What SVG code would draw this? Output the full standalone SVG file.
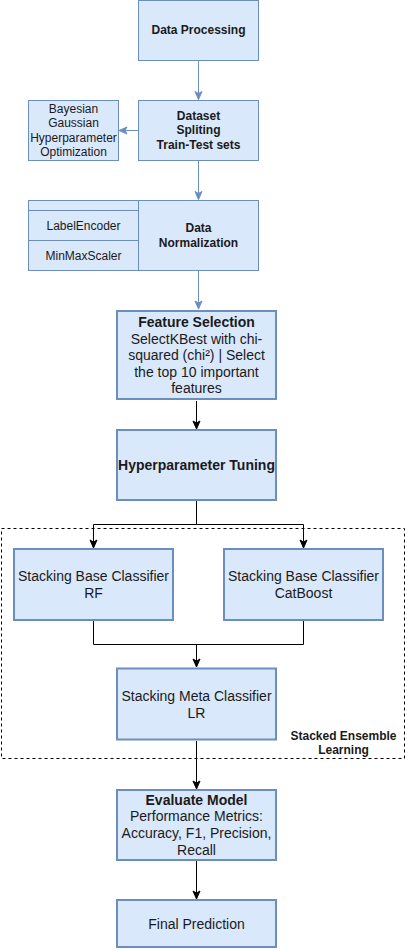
<svg xmlns="http://www.w3.org/2000/svg" width="419" height="950" viewBox="0 0 419 950">
<style>
.b1{fill:#dae8fc;stroke:#6c8ebf;stroke-width:1}
.b2{fill:#dae8fc;stroke:#6c8ebf;stroke-width:2}
text{font-family:"Liberation Sans",Arial,sans-serif;fill:#1a1a1a;text-anchor:middle}
.t12{font-size:12px}
.t12b{font-size:12px;font-weight:bold}
.t14{font-size:14px}
.t14b{font-size:14px;font-weight:bold}
.cb{fill:none;stroke:#6c8ebf;stroke-width:1}
.ck{fill:none;stroke:#000;stroke-width:1}
</style>
<defs>
<marker id="ab" markerUnits="userSpaceOnUse" markerWidth="10" markerHeight="10" refX="9" refY="5" orient="auto" viewBox="0 0 10 10"><path d="M1,1.5 L9,5 L1,8.5 L3,5 z" fill="#6c8ebf" stroke="#6c8ebf" stroke-width="1"/></marker>
<marker id="ak" markerUnits="userSpaceOnUse" markerWidth="10" markerHeight="10" refX="9" refY="5" orient="auto" viewBox="0 0 10 10"><path d="M1,1.5 L9,5 L1,8.5 L3,5 z" fill="#000" stroke="#000" stroke-width="1"/></marker>
</defs>
<g id="stacked-group">
<rect x="1.5" y="528.5" width="403" height="230" fill="none" stroke="#000" stroke-width="1" stroke-dasharray="3,3"/>
<text class="t12b" x="343.5" y="740">Stacked Ensemble</text>
<text class="t12b" x="343.5" y="754">Learning</text>
</g>
<g id="connectors">
<path class="cb" d="M198.5,60.5 L198.5,99.5" marker-end="url(#ab)"/>
<path class="cb" d="M138.5,130.5 L119,130.5" marker-end="url(#ab)"/>
<path class="cb" d="M198.5,160.5 L198.5,199.5" marker-end="url(#ab)"/>
<path class="cb" d="M198.5,270.5 L198.5,309" marker-end="url(#ab)"/>
<path class="ck" d="M196.5,401 L196.5,429" marker-end="url(#ak)"/>
<path class="ck" d="M196.5,501 L196.5,524.5 L93.5,524.5 L93.5,548" marker-end="url(#ak)"/>
<path class="ck" d="M196.5,524.5 L303.5,524.5 L303.5,548" marker-end="url(#ak)"/>
<path class="ck" d="M93.5,621 L93.5,644.5 L303.5,644.5 L303.5,621"/>
<path class="ck" d="M196.5,644.5 L196.5,667" marker-end="url(#ak)"/>
<path class="ck" d="M196.5,741 L196.5,789" marker-end="url(#ak)"/>
<path class="ck" d="M196.5,861 L196.5,899" marker-end="url(#ak)"/>
</g>
<g id="data-processing">
<rect class="b1" x="138.5" y="0.5" width="120" height="60"/>
<text class="t12b" x="198.5" y="34">Data Processing</text>
</g>
<g id="dataset-spliting">
<rect class="b1" x="138.5" y="100.5" width="120" height="60"/>
<text class="t12b" x="198.5" y="120">Dataset</text>
<text class="t12b" x="198.5" y="134">Spliting</text>
<text class="t12b" x="198.5" y="149">Train-Test sets</text>
</g>
<g id="bayesian">
<rect class="b1" x="28.5" y="100.5" width="90" height="60"/>
<text class="t12" x="73.5" y="112.5">Bayesian</text>
<text class="t12" x="73.5" y="127">Gaussian</text>
<text class="t12" x="73.5" y="141.5">Hyperparameter</text>
<text class="t12" x="73.5" y="156">Optimization</text>
</g>
<g id="data-normalization">
<rect class="b1" x="138.5" y="200.5" width="120" height="70"/>
<text class="t12b" x="198.5" y="232">Data</text>
<text class="t12b" x="198.5" y="246.5">Normalization</text>
<rect class="b1" x="28.5" y="200.5" width="110" height="70"/>
<line x1="28.5" y1="210.5" x2="138.5" y2="210.5" stroke="#6c8ebf"/>
<line x1="28.5" y1="240.5" x2="138.5" y2="240.5" stroke="#6c8ebf"/>
<text class="t12" x="83.5" y="230">LabelEncoder</text>
<text class="t12" x="83.5" y="260">MinMaxScaler</text>
</g>
<g id="feature-selection">
<rect class="b2" x="117" y="311" width="159" height="88"/>
<text class="t14b" x="196.5" y="327">Feature Selection</text>
<text class="t14" x="196.5" y="343.5">SelectKBest with chi-</text>
<text class="t14" x="196.5" y="360">squared (chi²) | Select</text>
<text class="t14" x="196.5" y="376.5">the top 10 important</text>
<text class="t14" x="196.5" y="393">features</text>
</g>
<g id="hyperparameter-tuning">
<rect class="b2" x="117" y="430" width="159" height="70"/>
<text class="t14b" x="196.5" y="469.5">Hyperparameter Tuning</text>
</g>
<g id="base-rf">
<rect class="b2" x="14" y="549" width="159" height="71"/>
<text class="t14" x="93.5" y="581">Stacking Base Classifier</text>
<text class="t14" x="93.5" y="598">RF</text>
</g>
<g id="base-catboost">
<rect class="b2" x="224" y="549" width="159" height="71"/>
<text class="t14" x="303.5" y="581">Stacking Base Classifier</text>
<text class="t14" x="303.5" y="598">CatBoost</text>
</g>
<g id="meta-lr">
<rect class="b2" x="117" y="668.5" width="159" height="71"/>
<text class="t14" x="196.5" y="701">Stacking Meta Classifier</text>
<text class="t14" x="196.5" y="717.5">LR</text>
</g>
<g id="evaluate-model">
<rect class="b2" x="117" y="790" width="159" height="70"/>
<text class="t14b" x="196.5" y="804.5">Evaluate Model</text>
<text class="t14" x="196.5" y="821">Performance Metrics:</text>
<text class="t14" x="196.5" y="838">Accuracy, F1, Precision,</text>
<text class="t14" x="196.5" y="854.5">Recall</text>
</g>
<g id="final-prediction">
<rect class="b2" x="117" y="900" width="159" height="47"/>
<text class="t14" x="196.5" y="928.5">Final Prediction</text>
</g>
</svg>
